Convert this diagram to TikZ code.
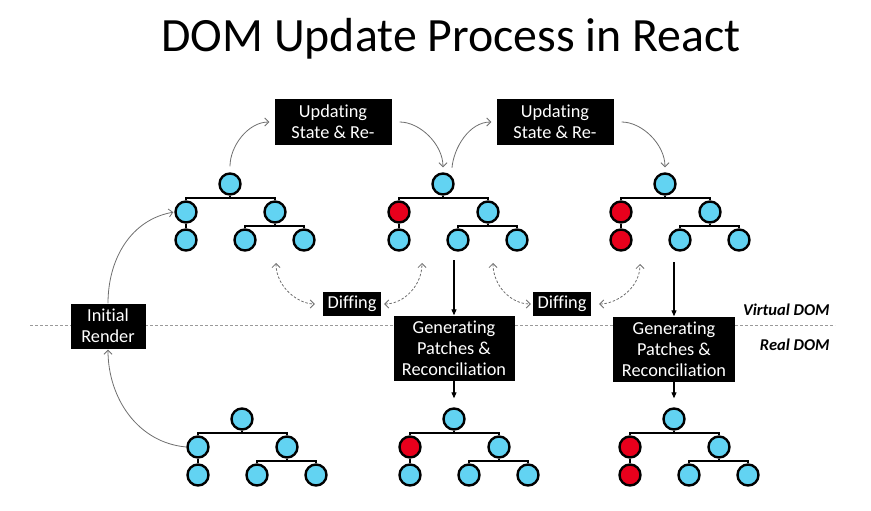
\documentclass[tikz,border=0pt]{standalone}
\usepackage{fontspec}
\setmainfont{Carlito}[Ligatures=NoCommon]
\usepackage{tikz}
\usetikzlibrary{calc,arrows.meta}
\definecolor{nodeblue}{HTML}{62D3F2}
\definecolor{nodered}{HTML}{E8001C}
\definecolor{curvegray}{HTML}{6E6E6E}
\definecolor{sepgray}{HTML}{9A9A9A}
\tikzset{
  domNode/.style={circle, draw=black, fill=nodeblue, line width=2.4pt, minimum size=21pt, inner sep=0pt},
  treeLink/.style={draw=black, line width=2.4pt},
  blackBox/.style={fill=black, text=white, align=center, inner sep=0pt, font=\fontsize{18.3}{21}\selectfont},
  flowArrow/.style={draw=curvegray, line width=0.8pt, -{Straight Barb[length=4pt,width=8pt]}},
  diffArrow/.style={draw=curvegray, line width=0.8pt, dash pattern=on 2.5pt off 1.8pt,
    {Straight Barb[length=4pt,width=8pt]}-{Straight Barb[length=4pt,width=8pt]}},
  patchArrow/.style={draw=black, line width=1.1pt, -{Triangle[length=6pt,width=5pt]}},
  layerLbl/.style={font=\fontsize{16.5}{19}\selectfont\bfseries\itshape, anchor=east},
  sepLine/.style={draw=sepgray, dash pattern=on 3pt off 2pt, line width=0.7pt},
}
\newcommand{\DomTree}[5]{%
  \node[domNode] (#1r) at (#2,#3) {};
  \node[domNode, fill=#4] (#1a) at ($(#1r)+(-44,28)$) {};
  \node[domNode] (#1b) at ($(#1r)+(45,28)$) {};
  \node[domNode, fill=#5] (#1c) at ($(#1r)+(-44,56)$) {};
  \node[domNode] (#1d) at ($(#1r)+(15,56)$) {};
  \node[domNode] (#1e) at ($(#1r)+(74,56)$) {};
  \coordinate (#1s) at ($(#1r)+(0,14)$);
  \coordinate (#1t) at ($(#1b)+(0,14)$);
  \draw[treeLink] (#1a.north) |- (#1s) -| (#1b.north);
  \draw[treeLink] (#1r) -- (#1s);
  \draw[treeLink] (#1d.north) |- (#1t) -| (#1e.north);
  \draw[treeLink] (#1b) -- (#1t);
  \draw[treeLink] (#1a) -- (#1c);
}

\begin{document}
\begin{tikzpicture}[x=1pt, y=-1pt]
  \useasboundingbox (0,0) rectangle (871,511);
  \node[font=\fontsize{47.8}{57}\selectfont, anchor=base] (title) at (451,52) {DOM Update Process in React};

  \draw[sepLine] (30,325) -- (835,325);

  % virtual DOM trees
  \DomTree{ta}{230}{184}{nodeblue}{nodeblue}
  \DomTree{tb}{443}{184}{nodered}{nodeblue}
  \DomTree{tc}{665}{184}{nodered}{nodered}
  % real DOM trees
  \DomTree{td}{242}{419}{nodeblue}{nodeblue}
  \DomTree{te}{454}{419}{nodered}{nodeblue}
  \DomTree{tf}{674}{419}{nodered}{nodered}

  \node[blackBox, minimum width=117pt, minimum height=45pt] (upd1) at (333,122) {Updating\\State \& Re-};
  \node[blackBox, minimum width=117pt, minimum height=45pt] (upd2) at (555,122) {Updating\\State \& Re-};
  \node[blackBox, minimum width=75pt, minimum height=45pt] (init) at (108,326) {Initial\\Render};
  \node[blackBox, minimum width=58pt, minimum height=24pt] (diff1) at (352,304) {Diffing};
  \node[blackBox, minimum width=58pt, minimum height=24pt] (diff2) at (562,304) {Diffing};
  \node[blackBox, minimum width=121pt, minimum height=65pt] (gen1) at (454,348) {Generating\\Patches \&\\Reconciliation};
  \node[blackBox, minimum width=122pt, minimum height=65pt] (gen2) at (674,349) {Generating\\Patches \&\\Reconciliation};

  \node[layerLbl] (virt) at (833,310) {Virtual DOM};
  \node[layerLbl] (real) at (833,345) {Real DOM};

  \coordinate (d1a) at (276,263);
  \coordinate (d1b) at (422,263);
  \coordinate (d2a) at (493,263);
  \coordinate (d2b) at (640,264);
  \coordinate (p1) at (454,260);
  \coordinate (p2) at (674,262);

  \draw[flowArrow, shorten <=6pt, shorten >=5pt] (tar.north) to[out=90, in=180] (upd1.west);
  \draw[flowArrow, shorten <=8pt, shorten >=5pt] (upd1.east) to[out=0, in=90] (tbr.north);
  \draw[flowArrow, shorten <=8pt, shorten >=5pt] (tbr.north east) to[out=85, in=180] (upd2.west);
  \draw[flowArrow, shorten <=8pt, shorten >=5pt] (upd2.east) to[out=0, in=90] (tcr.north);
  \draw[flowArrow, shorten >=1pt] (tda.west) to[out=175, in=-90] (init.south);
  \draw[flowArrow, shorten >=1pt] (init.north) to[out=90, in=190] (taa.west);

  \draw[diffArrow, shorten >=8pt] (d1a) to[out=-90, in=180] (diff1.west);
  \draw[diffArrow, shorten <=3pt] (diff1.east) to[out=0, in=-90] (d1b);
  \draw[diffArrow, shorten >=2pt] (d2a) to[out=-90, in=180] (diff2.west);
  \draw[diffArrow, shorten <=8pt] (diff2.east) to[out=0, in=-90] (d2b);

  \draw[patchArrow] (p1) -- (gen1.north);
  \draw[patchArrow] (p2) -- (gen2.north);
  \draw[patchArrow, shorten >=9pt] (gen1.south) -- (ter.north);
  \draw[patchArrow, shorten >=9pt] (gen2.south) -- (tfr.north);
\end{tikzpicture}
\end{document}
